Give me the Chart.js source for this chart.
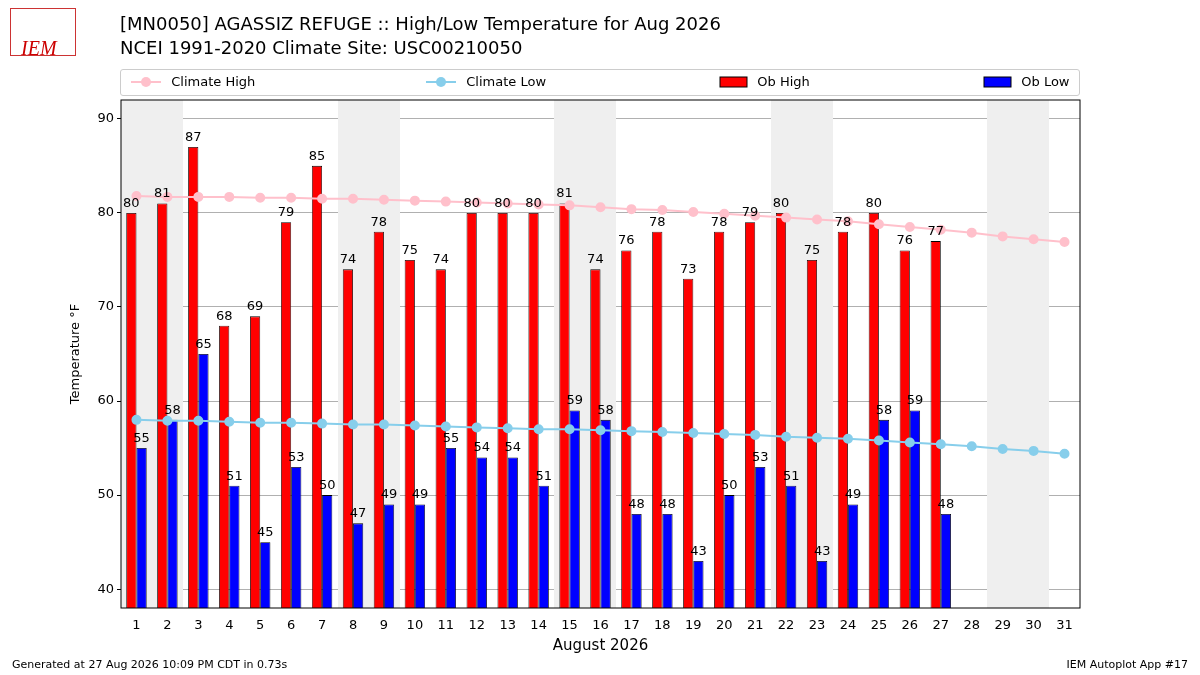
<!DOCTYPE html>
<html><head><meta charset="utf-8">
<script src="https://cdn.jsdelivr.net/npm/chart.js@4"></script>
<style>
body{margin:0;width:1200px;height:675px;background:#fff;font-family:"DejaVu Sans",sans-serif;position:relative;overflow:hidden}
#c{position:absolute;left:0;top:0}
.t{position:absolute;left:120px;font-size:18px;color:#000}
.f{position:absolute;top:658px;font-size:11px}
#legend{position:absolute;left:120px;top:69px;width:958px;height:25px;border:1px solid #ccc;border-radius:3px;font-size:13px}
.li{position:absolute;top:4px;display:flex;align-items:center}
</style></head><body>
<canvas id="c" width="1200" height="675"></canvas>
<div style="position:absolute;left:10px;top:8px;width:66px;height:48px;border:1px solid #c33;color:#c00;font:italic 20px 'Liberation Serif';padding:28px 0 0 10px;box-sizing:border-box">IEM</div>
<div class="t" style="top:13px">[MN0050] AGASSIZ REFUGE :: High/Low Temperature for Aug 2026</div>
<div class="t" style="top:37px">NCEI 1991-2020 Climate Site: USC00210050</div>
<div id="legend">
 <div class="li" style="left:8px"><svg width="34" height="14"><line x1="2" y1="7" x2="32" y2="7" stroke="pink" stroke-width="2"/><circle cx="17" cy="7" r="5" fill="pink"/></svg>&nbsp;&nbsp;Climate High</div>
 <div class="li" style="left:303px"><svg width="34" height="14"><line x1="2" y1="7" x2="32" y2="7" stroke="skyblue" stroke-width="2"/><circle cx="17" cy="7" r="5" fill="skyblue"/></svg>&nbsp;&nbsp;Climate Low</div>
 <div class="li" style="left:598px"><svg width="30" height="14"><rect x="1" y="2" width="27" height="10" fill="red" stroke="#000"/></svg>&nbsp;&nbsp;Ob High</div>
 <div class="li" style="left:862px"><svg width="30" height="14"><rect x="1" y="2" width="27" height="10" fill="blue" stroke="#000"/></svg>&nbsp;&nbsp;Ob Low</div>
</div>
<div class="f" style="left:12px">Generated at 27 Aug 2026 10:09 PM CDT in 0.73s</div>
<div class="f" style="right:12px">IEM Autoplot App #17</div>
<script>
const days = Array.from({length: 31}, (_, i) => String(i + 1));
const obHigh = [80,81,87,68,69,79,85,74,78,75,74,80,80,80,81,74,76,78,73,78,79,80,75,78,80,76,77,null,null,null,null];
const obLow = [55,58,65,51,45,53,50,47,49,49,55,54,54,51,59,58,48,48,43,50,53,51,43,49,58,59,48,null,null,null,null];
const climHigh = [81.8,81.7,81.7,81.7,81.6,81.6,81.5,81.5,81.4,81.3,81.2,81.1,81.0,80.9,80.8,80.6,80.4,80.3,80.1,79.9,79.7,79.5,79.3,79.1,78.8,78.5,78.2,77.9,77.5,77.2,76.9];
const climLow = [58.0,57.9,57.9,57.8,57.7,57.7,57.6,57.5,57.5,57.4,57.3,57.2,57.1,57.0,57.0,56.9,56.8,56.7,56.6,56.5,56.4,56.2,56.1,56.0,55.8,55.6,55.4,55.2,54.9,54.7,54.4];
const weekendStarts = [1,8,15,22,29]; // Sat+Sun pairs

const shade = {
  id: 'shade',
  beforeDatasetsDraw(chart) {
    const {ctx, chartArea: a, scales: {x}} = chart;
    const w = x.getPixelForValue(1) - x.getPixelForValue(0);
    ctx.save();
    ctx.fillStyle = '#efefef';
    weekendStarts.forEach(d => {
      const px = x.getPixelForValue(d - 1);
      ctx.fillRect(Math.round(px - w / 2), a.top, Math.round(w * 2), a.bottom - a.top);
    });
    ctx.restore();
  },
  afterDraw(chart) {
    const {ctx, chartArea: a} = chart;
    ctx.save();
    ctx.strokeStyle = '#000';
    ctx.lineWidth = 1;
    ctx.strokeRect(a.left, a.top, a.right - a.left, a.bottom - a.top);
    ctx.font = '13px "DejaVu Sans"';
    ctx.fillStyle = '#000';
    ctx.textAlign = 'center';
    ctx.textBaseline = 'bottom';
    [2, 3].forEach(i => {
      chart.getDatasetMeta(i).data.forEach((el, j) => {
        const v = chart.data.datasets[i].data[j];
        if (v == null) return;
        ctx.fillText(v, el.x, el.y - 3);
      });
    });
    ctx.restore();
  }
};

new Chart(document.getElementById('c'), {
  type: 'bar',
  data: {
    labels: days,
    datasets: [
      {type: 'line', label: 'Climate High', data: climHigh, borderColor: 'pink', backgroundColor: 'pink', pointRadius: 4, borderWidth: 2, order: 0},
      {type: 'line', label: 'Climate Low', data: climLow, borderColor: 'skyblue', backgroundColor: 'skyblue', pointRadius: 4, borderWidth: 2, order: 0},
      {label: 'Ob High', data: obHigh, backgroundColor: 'red', borderColor: '#000', borderWidth: 0.8, borderSkipped: false, order: 1},
      {label: 'Ob Low', data: obLow, backgroundColor: 'blue', borderColor: '#000', borderWidth: 0.8, borderSkipped: false, order: 1}
    ]
  },
  options: {
    responsive: false,
    animation: false,
    datasets: {bar: {barPercentage: 1, categoryPercentage: 0.66}},
    layout: {padding: {top: 100, right: 120, left: 68, bottom: 20}},
    plugins: {legend: {display: false}, tooltip: {enabled: false}},
    scales: {
      x: {
        grid: {display: false},
        border: {display: false},
        ticks: {color: '#000', font: {size: 13, family: 'DejaVu Sans'}, maxRotation: 0, autoSkip: false, padding: 2},
        title: {display: true, text: 'August 2026', color: '#000', font: {size: 15, family: 'DejaVu Sans'}, padding: {top: 4, bottom: 0}},
        afterFit(s) { s.height = 47; }
      },
      y: {
        min: 38, max: 92,
        afterBuildTicks(s) { s.ticks = [40,50,60,70,80,90].map(v => ({value: v})); },
        grid: {color: '#b0b0b0', drawTicks: true, tickColor: '#000', tickLength: 4},
        border: {display: false},
        ticks: {color: '#000', font: {size: 13, family: 'DejaVu Sans'}},
        title: {display: true, text: 'Temperature °F', color: '#000', font: {size: 13, family: 'DejaVu Sans'}, padding: 0},
        afterFit(s) { s.width = 53; }
      }
    }
  },
  plugins: [shade]
});
</script>
</body></html>
